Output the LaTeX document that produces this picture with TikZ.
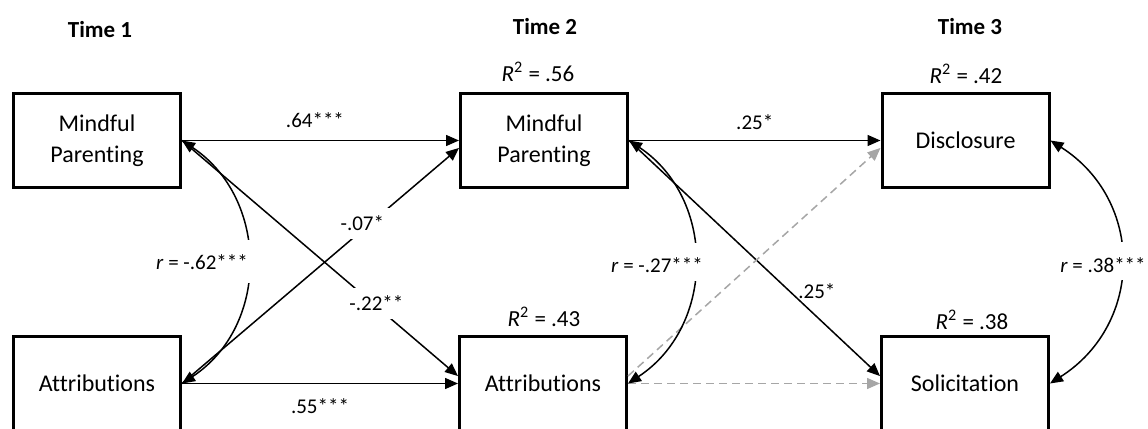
\documentclass[tikz,border=0pt]{standalone}
\usepackage{fontspec}
\setmainfont{Carlito}[Ligatures=NoCommon]
\usetikzlibrary{arrows.meta}
\definecolor{dgray}{RGB}{166,166,166}
\begin{document}
\begin{tikzpicture}[x=0.5pt,y=-0.5pt,
  box/.style={draw, line width=1.5pt, minimum width=83.5pt, minimum height=47pt, align=center, inner sep=0pt, font=\fontsize{12}{15.5}\selectfont},
  conn/.style={line width=0.75pt, -{Triangle[length=6.5pt,width=5.5pt]}},
  corr/.style={line width=0.75pt, {Triangle[length=6.5pt,width=5.5pt]}-{Triangle[length=6.5pt,width=5.5pt]}},
  gconn/.style={line width=0.75pt, dgray, dash pattern=on 4pt off 2.5pt, -{Triangle[length=6.5pt,width=5.5pt]}},
  lbl/.style={font=\fontsize{10.5}{12}\selectfont, inner sep=1pt},
  head/.style={font=\bfseries\fontsize{11.5}{14}\selectfont},
  rsq/.style={font=\fontsize{11.5}{13}\selectfont}]
\useasboundingbox (0,0) rectangle (1148,429);
% headings
\node[head] (t1) at (100,30) {Time 1};
\node[head] (t2) at (545,27) {Time 2};
\node[head] (t3) at (970,27) {Time 3};
% boxes
\node[box] (mp1) at (97,140.5) {Mindful\\Parenting};
\node[box] (at1) at (97,383.5) {Attributions};
\node[box] (mp2) at (544,140.5) {Mindful\\Parenting};
\node[box] (at2) at (543,383.5) {Attributions};
\node[box] (dis) at (965.5,140.5) {Disclosure};
\node[box] (sol) at (965,383.5) {Solicitation};
% R squared
\node[rsq] (r2a) at (538,72) {\textit{R}\textsuperscript{2} = .56};
\node[rsq] (r2b) at (544,317) {\textit{R}\textsuperscript{2} = .43};
\node[rsq] (r2c) at (966,74) {\textit{R}\textsuperscript{2} = .42};
\node[rsq] (r2d) at (972,320) {\textit{R}\textsuperscript{2} = .38};
% paths
\draw[conn] (mp1.east) -- node[lbl,pos=.48,yshift=10pt]{.64***} (mp2.west);
\draw[conn] (at1.east) -- node[lbl,pos=.5,yshift=-11.5pt]{.55***} (at2.west);
\draw[conn] (at1.east) -- node[lbl,fill=white,inner sep=4pt,pos=.68,xshift=-4pt]{-.07*} (mp2.185);
\draw[conn] (mp1.east) -- node[lbl,fill=white,inner sep=4pt,pos=.69,xshift=2pt]{-.22**} (at2.175);
\draw[conn] (mp2.east) -- node[lbl,pos=.5,yshift=9pt]{.25*} (dis.west);
\draw[conn] (mp2.east) -- node[lbl,pos=.64,anchor=west,xshift=3pt]{.25*} (sol.175);
\draw[gconn] (at2.5) -- (dis.185);
\draw[gconn] (at2.east) -- (sol.west);
% correlations
\draw[corr] (mp1.east) .. controls +(87,58) and +(88,-58) .. (at1.east);
\fill[white] (243,240) rectangle (259,283);
\node[lbl] (rl1) at (202,262) {\textit{r} = -.62***};
\draw[corr] (mp2.east) .. controls +(87,58) and +(88,-58) .. (at2.east);
\fill[white] (686,243) rectangle (702,281);
\node[lbl] (rl2) at (657,265) {\textit{r} = -.27***};
\draw[corr] (dis.east) .. controls +(94,60) and +(94,-60) .. (sol.east);
\fill[white] (1111,242) rectangle (1128,280);
\node[lbl] (rl3) at (1103,265) {\textit{r} = .38***};
\end{tikzpicture}
\end{document}
